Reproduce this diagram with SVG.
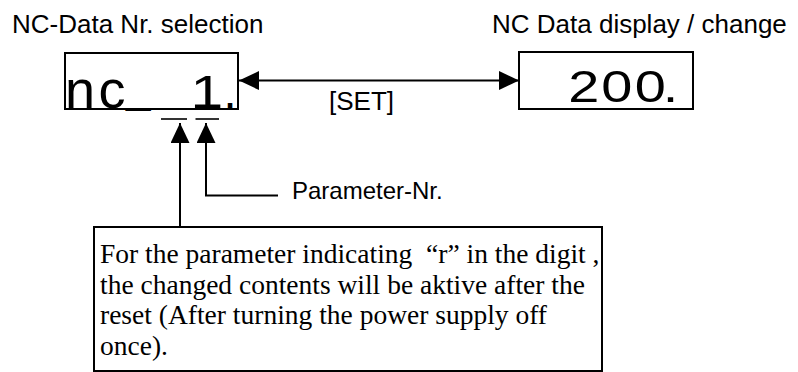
<svg xmlns="http://www.w3.org/2000/svg" width="798" height="372" viewBox="0 0 798 372">
<style>
.sans{font-family:"Liberation Sans",Arial,sans-serif;fill:#000}
.serif{font-family:"Liberation Serif","Times New Roman",serif;fill:#000;font-size:27.5px;white-space:pre}
.box{fill:#fff;stroke:#000;stroke-width:2}
.conn{fill:none;stroke:#000;stroke-width:2}
.bar{stroke:#000;stroke-width:1.6}
</style>
<defs>
<marker id="ah" viewBox="0 0 20 19" refX="20" refY="9.5" markerWidth="20" markerHeight="19" markerUnits="userSpaceOnUse" orient="auto-start-reverse">
<path d="M0,0 L20,9.5 L0,19 z" fill="#000"/>
</marker>
</defs>
<rect width="798" height="372" fill="#fff"/>

<g id="nc-select">
<text class="sans" x="12" y="33" font-size="26">NC-Data Nr. selection</text>
<rect class="box" x="65" y="53" width="173" height="56"/>
<text class="sans" x="65" y="107.5" font-size="54">n</text>
<text class="sans" x="98.5" y="107.5" font-size="54">c</text>
<text class="sans" x="126" y="102.3" font-size="44">_</text>
<text class="sans" font-size="47" transform="translate(190.6,108) scale(1.25,1)">1</text>
<text class="sans" x="223.5" y="108" font-size="47">.</text>
<line class="bar" x1="161" y1="119" x2="187" y2="119"/>
<line class="bar" x1="195.5" y1="119" x2="219" y2="119"/>
</g>

<g id="nc-data">
<text class="sans" x="492" y="33" font-size="26">NC Data display / change</text>
<rect class="box" x="519" y="52" width="174" height="57"/>
<text class="sans" font-size="44" transform="translate(568,102) scale(1.27,1)" x="0.3 26.1 52.5 74.7">200.</text>
</g>

<g id="param-label">
<text class="sans" x="292" y="199" font-size="24">Parameter-Nr.</text>
</g>

<g id="note">
<rect class="box" x="94" y="227" width="508" height="144"/>
<text class="serif" x="100" y="263">For the parameter indicating  “r” in the digit ,</text>
<text class="serif" x="100" y="294">the changed contents will be aktive after the</text>
<text class="serif" x="100" y="324">reset (After turning the power supply off</text>
<text class="serif" x="100" y="355">once).</text>
</g>

<g id="connectors">
<line class="conn" x1="239" y1="80.5" x2="519" y2="80.5" marker-start="url(#ah)" marker-end="url(#ah)"/>
<text class="sans" x="329" y="110" font-size="26">[SET]</text>
<path class="conn" d="M180,227 V123" marker-end="url(#ah)"/>
<path class="conn" d="M278,195.5 H206 V123" marker-end="url(#ah)"/>
</g>
</svg>
